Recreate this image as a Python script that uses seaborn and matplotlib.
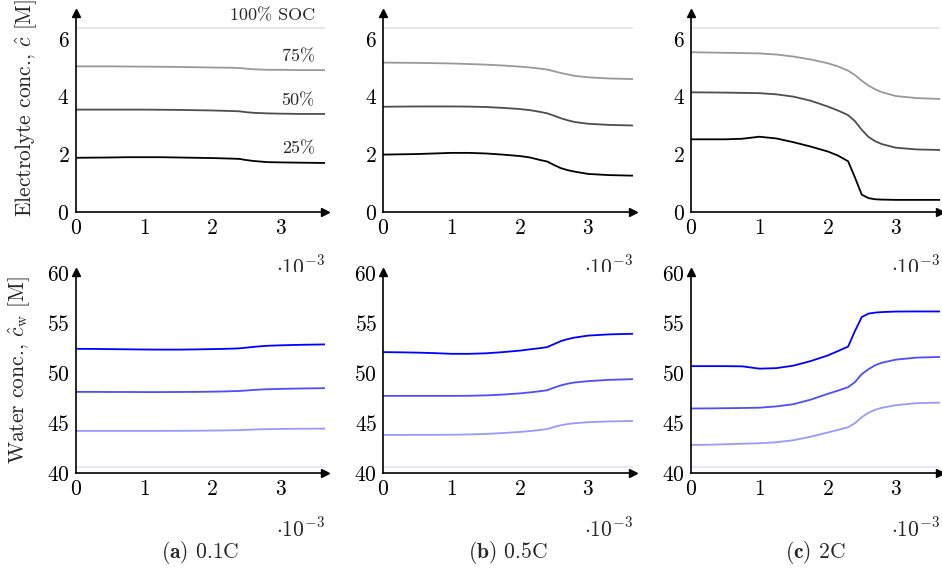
import matplotlib
matplotlib.use("Agg")
import matplotlib.pyplot as plt
import seaborn as sns

# ---------------- data ----------------
x_knots = [0.0, 0.25, 0.5, 0.75, 1.0, 1.25, 1.5, 1.75, 2.0, 2.15, 2.3, 2.4,
           2.5, 2.6, 2.7, 2.8, 3.0, 3.3, 3.65]
soc_labels = ["25%", "50%", "75%", "100% SOC"]
panel_titles = ["0.1C", "0.5C", "2C"]
panel_letters = ["(a)", "(b)", "(c)"]

elec_100 = 6.39
water_100 = 40.66

elec_01C_25 = [1.88, 1.885, 1.89, 1.90, 1.90, 1.90, 1.89, 1.88, 1.87, 1.86, 1.85, 1.84, 1.80, 1.77, 1.75, 1.73, 1.72, 1.71, 1.70]
elec_01C_50 = [3.55, 3.55, 3.55, 3.55, 3.55, 3.545, 3.54, 3.53, 3.52, 3.51, 3.50, 3.49, 3.46, 3.44, 3.43, 3.42, 3.41, 3.40, 3.40]
elec_01C_75 = [5.05, 5.05, 5.05, 5.045, 5.04, 5.035, 5.03, 5.02, 5.01, 5.005, 5.00, 4.99, 4.97, 4.95, 4.94, 4.93, 4.93, 4.92, 4.92]

elec_05C_25 = [1.99, 2.00, 2.01, 2.03, 2.05, 2.05, 2.03, 1.99, 1.94, 1.89, 1.80, 1.75, 1.63, 1.52, 1.45, 1.40, 1.32, 1.28, 1.26]
elec_05C_50 = [3.65, 3.655, 3.66, 3.66, 3.66, 3.655, 3.64, 3.61, 3.57, 3.53, 3.47, 3.42, 3.34, 3.25, 3.18, 3.12, 3.06, 3.02, 3.00]
elec_05C_75 = [5.18, 5.175, 5.17, 5.16, 5.15, 5.13, 5.11, 5.08, 5.04, 5.01, 4.97, 4.94, 4.88, 4.82, 4.77, 4.72, 4.67, 4.63, 4.61]

elec_2C_25 = [2.52, 2.52, 2.52, 2.54, 2.61, 2.55, 2.42, 2.27, 2.10, 1.96, 1.76, 1.20, 0.60, 0.48, 0.44, 0.43, 0.42, 0.42, 0.42]
elec_2C_50 = [4.15, 4.145, 4.14, 4.13, 4.12, 4.08, 4.00, 3.86, 3.66, 3.52, 3.36, 3.15, 2.85, 2.60, 2.45, 2.35, 2.23, 2.17, 2.15]
elec_2C_75 = [5.54, 5.53, 5.52, 5.51, 5.50, 5.46, 5.39, 5.29, 5.16, 5.05, 4.90, 4.75, 4.55, 4.38, 4.25, 4.15, 4.02, 3.95, 3.92]

water_01C_25 = [52.43, 52.42, 52.40, 52.38, 52.36, 52.35, 52.35, 52.37, 52.40, 52.42, 52.45, 52.48, 52.55, 52.62, 52.68, 52.73, 52.78, 52.83, 52.87]
water_01C_50 = [48.13, 48.13, 48.12, 48.12, 48.11, 48.11, 48.12, 48.13, 48.15, 48.17, 48.20, 48.22, 48.27, 48.32, 48.36, 48.39, 48.43, 48.47, 48.50]
water_01C_75 = [44.23, 44.23, 44.23, 44.23, 44.23, 44.235, 44.24, 44.25, 44.27, 44.28, 44.30, 44.31, 44.34, 44.37, 44.39, 44.41, 44.43, 44.45, 44.46]

water_05C_25 = [52.10, 52.08, 52.05, 52.00, 51.93, 51.93, 51.98, 52.10, 52.25, 52.38, 52.50, 52.60, 52.90, 53.20, 53.40, 53.55, 53.75, 53.87, 53.93]
water_05C_50 = [47.73, 47.73, 47.73, 47.73, 47.73, 47.74, 47.78, 47.86, 47.98, 48.08, 48.20, 48.30, 48.55, 48.78, 48.95, 49.07, 49.20, 49.33, 49.40]
water_05C_75 = [43.83, 43.83, 43.84, 43.84, 43.85, 43.88, 43.93, 44.02, 44.13, 44.22, 44.33, 44.42, 44.62, 44.80, 44.92, 45.00, 45.10, 45.18, 45.22]

water_2C_25 = [50.70, 50.70, 50.70, 50.68, 50.45, 50.50, 50.75, 51.20, 51.76, 52.20, 52.65, 54.20, 55.60, 55.95, 56.05, 56.10, 56.15, 56.16, 56.16]
water_2C_50 = [46.47, 46.48, 46.50, 46.52, 46.55, 46.68, 46.90, 47.35, 47.93, 48.25, 48.60, 49.10, 49.90, 50.40, 50.80, 51.05, 51.35, 51.55, 51.62]
water_2C_75 = [42.83, 42.85, 42.90, 42.95, 43.00, 43.10, 43.30, 43.65, 44.07, 44.33, 44.60, 45.00, 45.60, 46.05, 46.35, 46.55, 46.80, 47.00, 47.06]

elec_series = [
    [elec_01C_25, elec_01C_50, elec_01C_75],
    [elec_05C_25, elec_05C_50, elec_05C_75],
    [elec_2C_25, elec_2C_50, elec_2C_75],
]
water_series = [
    [water_01C_25, water_01C_50, water_01C_75],
    [water_05C_25, water_05C_50, water_05C_75],
    [water_2C_25, water_2C_50, water_2C_75],
]

elec_colors = ["#000000", "#4d4d4d", "#999999", "#e6e6e6"]
water_colors = ["#0000ff", "#4d4dff", "#9999ff", "#e6e6ff"]

# ---------------- style ----------------
sns.set_style("white")
plt.rcParams["font.family"] = ["cmr10", "DejaVu Serif"]
plt.rcParams["mathtext.fontset"] = "cm"
plt.rcParams["axes.formatter.use_mathtext"] = True

FS = 15.5
W, H = 942, 570
fig = plt.figure(figsize=(W / 100, H / 100), dpi=100)

lefts_px = [75.7, 383.3, 691.0]
xmax = 3.65
px_per_unit = 68.3
top_row = (13.0, 212.0)      # top px, bottom px
bot_row = (272.0, 473.3)

def make_ax(left_px, row):
    t, b = row
    w = xmax * px_per_unit
    return fig.add_axes([left_px / W, 1 - b / H, w / W, (b - t) / H])

def style_ax(ax, ylim, yticks):
    ax.set_xlim(0, xmax)
    ax.set_ylim(*ylim)
    ax.set_xticks([0, 1, 2, 3])
    ax.set_yticks(yticks)
    for s in ["top", "right"]:
        ax.spines[s].set_visible(False)
    for s in ["left", "bottom"]:
        ax.spines[s].set_color("black")
        ax.spines[s].set_linewidth(1.2)
    ax.tick_params(axis="both", direction="inout", length=5, width=0.6,
                   color="#b0b0b0", labelsize=FS, pad=2, labelcolor="black")
    ax.plot(1, 0, marker=">", color="black", markersize=6, transform=ax.transAxes,
            clip_on=False, zorder=5)
    ax.plot(0, 1, marker="^", color="black", markersize=6, transform=ax.transAxes,
            clip_on=False, zorder=5)
    ax.set_xlabel("")
    ax.set_ylabel("")
    ax.grid(False)

for i in range(3):
    # top: electrolyte concentration
    ax = make_ax(lefts_px[i], top_row)
    sns.lineplot(x=[x_knots[0], x_knots[-1]], y=[elec_100, elec_100],
                 color=elec_colors[3], linewidth=1.3, ax=ax)
    for k in range(3):
        sns.lineplot(x=x_knots, y=elec_series[i][k], color=elec_colors[k],
                     linewidth=1.3, ax=ax)
    style_ax(ax, (0, 6.9), [0, 2, 4, 6])
    ax.text(1.0, -0.215, r"$\cdot 10^{-3}$", transform=ax.transAxes,
            ha="right", va="top", fontsize=FS)
    if i == 0:
        lx = 3.5
        ax.text(lx, 6.55, soc_labels[3], ha="right", va="bottom", fontsize=13)
        ax.text(lx, elec_01C_75[-3] + 0.2, soc_labels[2], ha="right", va="bottom", fontsize=13)
        ax.text(lx, elec_01C_50[-3] + 0.2, soc_labels[1], ha="right", va="bottom", fontsize=13)
        ax.text(lx, elec_01C_25[-3] + 0.2, soc_labels[0], ha="right", va="bottom", fontsize=13)

    # bottom: water concentration
    axb = make_ax(lefts_px[i], bot_row)
    sns.lineplot(x=[x_knots[0], x_knots[-1]], y=[water_100, water_100],
                 color=water_colors[3], linewidth=1.3, ax=axb)
    for k in range(3):
        sns.lineplot(x=x_knots, y=water_series[i][k], color=water_colors[k],
                     linewidth=1.3, ax=axb)
    style_ax(axb, (40, 60.1), [40, 45, 50, 55, 60])
    axb.text(1.0, -0.215, r"$\cdot 10^{-3}$", transform=axb.transAxes,
             ha="right", va="top", fontsize=FS)

    cx = (lefts_px[i] + xmax * px_per_unit / 2) / W
    fig.text(cx, 1 - 552 / H, r"$\mathbf{" + panel_letters[i] + r"}$ " + panel_titles[i],
             ha="center", va="center", fontsize=FS)

fig.text(26 / W, 1 - 108 / H, r"Electrolyte conc., $\hat{c}$ [M]", rotation=90,
         ha="center", va="center", fontsize=FS)
fig.text(19 / W, 1 - 370 / H, r"Water conc., $\hat{c}_{\mathrm{w}}$ [M]", rotation=90,
         ha="center", va="center", fontsize=FS)

fig.savefig("out.png", dpi=100)
